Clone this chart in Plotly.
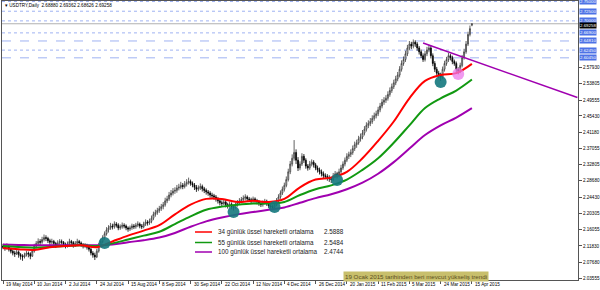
import plotly.graph_objects as go

# ---------------- data ----------------
tick_labels = ["19 May 2014", "10 Jun 2014", "2 Jul 2014", "24 Jul 2014", "15 Aug 2014",
               "8 Sep 2014", "30 Sep 2014", "22 Oct 2014", "12 Nov 2014", "4 Dec 2014",
               "26 Dec 2014", "20 Jan 2015", "11 Feb 2015", "5 Mar 2015", "24 Mar 2015",
               "15 Apr 2015"]
tick_bars = [0, 16, 32, 48, 64, 80, 96, 112, 128, 144, 160, 176, 192, 208, 224, 240]

y_ticks = [2.03555, 2.07680, 2.11830, 2.16055, 2.20305, 2.24430, 2.28680, 2.32805,
           2.37055, 2.41180, 2.45430, 2.49555, 2.53805, 2.57930]

open_ = [2.118, 2.115, 2.112, 2.118, 2.110, 2.105, 2.100, 2.098, 2.103, 2.096,
         2.092, 2.090, 2.095, 2.100, 2.098, 2.092, 2.105, 2.118, 2.125, 2.130,
         2.128, 2.135, 2.140, 2.138, 2.132, 2.128, 2.130, 2.125, 2.120, 2.126,
         2.130, 2.128, 2.122, 2.118, 2.124, 2.130, 2.127, 2.120, 2.125, 2.130,
         2.126, 2.122, 2.118, 2.120, 2.115, 2.110, 2.100, 2.095, 2.090, 2.105,
         2.120, 2.130, 2.140, 2.150, 2.160, 2.165, 2.170, 2.168, 2.175, 2.172,
         2.165, 2.168, 2.172, 2.170, 2.165, 2.162, 2.165, 2.170, 2.168, 2.172,
         2.175, 2.170, 2.168, 2.175, 2.180, 2.178, 2.182, 2.190, 2.200, 2.205,
         2.210, 2.215, 2.220, 2.225, 2.235, 2.240, 2.250, 2.255, 2.260, 2.262,
         2.268, 2.270, 2.275, 2.272, 2.278, 2.282, 2.285, 2.280, 2.276, 2.270,
         2.265, 2.268, 2.272, 2.266, 2.262, 2.258, 2.255, 2.250, 2.248, 2.245,
         2.240, 2.235, 2.230, 2.228, 2.232, 2.225, 2.222, 2.226, 2.220, 2.218,
         2.225, 2.230, 2.235, 2.238, 2.242, 2.245, 2.240, 2.238, 2.235, 2.240,
         2.236, 2.232, 2.228, 2.225, 2.230, 2.234, 2.228, 2.222, 2.220, 2.218,
         2.225, 2.235, 2.245, 2.255, 2.265, 2.275, 2.290, 2.310, 2.330, 2.345,
         2.360, 2.340, 2.320, 2.330, 2.350, 2.340, 2.325, 2.320, 2.330, 2.335,
         2.328, 2.320, 2.315, 2.310, 2.305, 2.300, 2.298, 2.295, 2.292, 2.290,
         2.300, 2.305, 2.300, 2.310, 2.320, 2.330, 2.340, 2.350, 2.355, 2.360,
         2.370, 2.380, 2.385, 2.395, 2.400, 2.410, 2.420, 2.430, 2.435, 2.440,
         2.448, 2.455, 2.460, 2.470, 2.480, 2.490, 2.495, 2.500, 2.510, 2.520,
         2.530, 2.540, 2.550, 2.560, 2.575, 2.590, 2.600, 2.615, 2.630, 2.640,
         2.635, 2.645, 2.640, 2.630, 2.620, 2.610, 2.600, 2.615, 2.625, 2.630,
         2.610, 2.590, 2.575, 2.565, 2.560, 2.555, 2.575, 2.590, 2.600, 2.610,
         2.605, 2.595, 2.590, 2.575, 2.570, 2.585, 2.605, 2.620, 2.640, 2.665,
         2.6888]
high = [2.124, 2.121, 2.125, 2.122, 2.114, 2.109, 2.106, 2.110, 2.107, 2.100,
        2.097, 2.101, 2.106, 2.104, 2.102, 2.110, 2.124, 2.131, 2.138, 2.136,
        2.142, 2.148, 2.146, 2.142, 2.137, 2.137, 2.134, 2.129, 2.133, 2.136,
        2.135, 2.131, 2.127, 2.130, 2.137, 2.134, 2.131, 2.131, 2.137, 2.134,
        2.130, 2.126, 2.126, 2.124, 2.119, 2.114, 2.105, 2.101, 2.111, 2.126,
        2.137, 2.146, 2.156, 2.167, 2.172, 2.178, 2.176, 2.182, 2.180, 2.177,
        2.174, 2.179, 2.177, 2.174, 2.169, 2.171, 2.176, 2.175, 2.178, 2.182,
        2.179, 2.175, 2.181, 2.187, 2.185, 2.189, 2.197, 2.207, 2.212, 2.217,
        2.222, 2.227, 2.232, 2.243, 2.248, 2.258, 2.263, 2.268, 2.270, 2.276,
        2.279, 2.284, 2.281, 2.286, 2.291, 2.295, 2.290, 2.285, 2.281, 2.276,
        2.275, 2.280, 2.277, 2.271, 2.267, 2.263, 2.260, 2.256, 2.253, 2.250,
        2.245, 2.240, 2.236, 2.240, 2.237, 2.230, 2.233, 2.231, 2.225, 2.231,
        2.237, 2.242, 2.245, 2.249, 2.252, 2.249, 2.245, 2.243, 2.246, 2.244,
        2.240, 2.237, 2.233, 2.236, 2.240, 2.238, 2.233, 2.227, 2.225, 2.231,
        2.242, 2.252, 2.262, 2.272, 2.282, 2.298, 2.318, 2.338, 2.355, 2.392,
        2.368, 2.348, 2.337, 2.358, 2.356, 2.345, 2.330, 2.338, 2.342, 2.340,
        2.333, 2.326, 2.321, 2.316, 2.311, 2.306, 2.304, 2.301, 2.298, 2.307,
        2.312, 2.310, 2.318, 2.328, 2.337, 2.347, 2.358, 2.362, 2.368, 2.378,
        2.388, 2.393, 2.403, 2.409, 2.418, 2.428, 2.438, 2.443, 2.449, 2.456,
        2.463, 2.468, 2.478, 2.488, 2.498, 2.503, 2.508, 2.518, 2.528, 2.538,
        2.548, 2.558, 2.568, 2.583, 2.598, 2.608, 2.623, 2.638, 2.648, 2.646,
        2.652, 2.650, 2.645, 2.635, 2.626, 2.616, 2.622, 2.633, 2.638, 2.636,
        2.616, 2.596, 2.581, 2.571, 2.566, 2.582, 2.597, 2.607, 2.617, 2.615,
        2.610, 2.600, 2.595, 2.580, 2.592, 2.612, 2.628, 2.648, 2.672, 2.688,
        2.69362]
low = [2.110, 2.106, 2.109, 2.104, 2.099, 2.094, 2.090, 2.095, 2.088, 2.083,
       2.080, 2.086, 2.091, 2.089, 2.084, 2.090, 2.101, 2.112, 2.119, 2.120,
       2.124, 2.130, 2.131, 2.126, 2.121, 2.122, 2.118, 2.113, 2.116, 2.121,
       2.122, 2.116, 2.112, 2.114, 2.119, 2.121, 2.114, 2.116, 2.120, 2.120,
       2.116, 2.112, 2.113, 2.109, 2.104, 2.094, 2.088, 2.082, 2.087, 2.101,
       2.116, 2.125, 2.134, 2.145, 2.153, 2.160, 2.161, 2.163, 2.166, 2.159,
       2.160, 2.163, 2.164, 2.159, 2.155, 2.157, 2.160, 2.162, 2.163, 2.167,
       2.164, 2.162, 2.164, 2.170, 2.171, 2.173, 2.177, 2.185, 2.194, 2.199,
       2.204, 2.209, 2.213, 2.220, 2.229, 2.235, 2.244, 2.249, 2.253, 2.256,
       2.262, 2.265, 2.265, 2.267, 2.272, 2.277, 2.274, 2.270, 2.263, 2.258,
       2.260, 2.263, 2.259, 2.255, 2.251, 2.248, 2.243, 2.241, 2.238, 2.233,
       2.228, 2.223, 2.221, 2.224, 2.218, 2.215, 2.217, 2.213, 2.210, 2.214,
       2.220, 2.225, 2.229, 2.232, 2.236, 2.234, 2.232, 2.229, 2.230, 2.230,
       2.226, 2.222, 2.219, 2.220, 2.225, 2.222, 2.216, 2.214, 2.211, 2.213,
       2.221, 2.230, 2.240, 2.250, 2.259, 2.270, 2.285, 2.304, 2.324, 2.339,
       2.330, 2.312, 2.314, 2.325, 2.333, 2.318, 2.313, 2.315, 2.324, 2.321,
       2.314, 2.308, 2.303, 2.298, 2.293, 2.291, 2.287, 2.284, 2.281, 2.286,
       2.295, 2.293, 2.296, 2.305, 2.315, 2.324, 2.335, 2.343, 2.348, 2.354,
       2.364, 2.372, 2.380, 2.388, 2.394, 2.404, 2.414, 2.423, 2.428, 2.434,
       2.442, 2.448, 2.454, 2.464, 2.474, 2.483, 2.488, 2.494, 2.504, 2.514,
       2.524, 2.534, 2.544, 2.554, 2.569, 2.584, 2.594, 2.609, 2.624, 2.627,
       2.629, 2.633, 2.623, 2.613, 2.604, 2.594, 2.595, 2.609, 2.619, 2.603,
       2.583, 2.568, 2.558, 2.552, 2.545, 2.550, 2.569, 2.584, 2.594, 2.598,
       2.588, 2.584, 2.568, 2.562, 2.565, 2.580, 2.600, 2.615, 2.635, 2.660,
       2.68626]
close = [2.115, 2.112, 2.118, 2.110, 2.105, 2.100, 2.098, 2.103, 2.096, 2.092,
         2.090, 2.095, 2.100, 2.098, 2.092, 2.105, 2.118, 2.125, 2.130, 2.128,
         2.135, 2.140, 2.138, 2.132, 2.128, 2.130, 2.125, 2.120, 2.126, 2.130,
         2.128, 2.122, 2.118, 2.124, 2.130, 2.127, 2.120, 2.125, 2.130, 2.126,
         2.122, 2.118, 2.120, 2.115, 2.110, 2.100, 2.095, 2.090, 2.105, 2.120,
         2.130, 2.140, 2.150, 2.160, 2.165, 2.170, 2.168, 2.175, 2.172, 2.165,
         2.168, 2.172, 2.170, 2.165, 2.162, 2.165, 2.170, 2.168, 2.172, 2.175,
         2.170, 2.168, 2.175, 2.180, 2.178, 2.182, 2.190, 2.200, 2.205, 2.210,
         2.215, 2.220, 2.225, 2.235, 2.240, 2.250, 2.255, 2.260, 2.262, 2.268,
         2.270, 2.275, 2.272, 2.278, 2.282, 2.285, 2.280, 2.276, 2.270, 2.265,
         2.268, 2.272, 2.266, 2.262, 2.258, 2.255, 2.250, 2.248, 2.245, 2.240,
         2.235, 2.230, 2.228, 2.232, 2.225, 2.222, 2.226, 2.220, 2.218, 2.225,
         2.230, 2.235, 2.238, 2.242, 2.245, 2.240, 2.238, 2.235, 2.240, 2.236,
         2.232, 2.228, 2.225, 2.230, 2.234, 2.228, 2.222, 2.220, 2.218, 2.225,
         2.235, 2.245, 2.255, 2.265, 2.275, 2.290, 2.310, 2.330, 2.345, 2.360,
         2.340, 2.320, 2.330, 2.350, 2.340, 2.325, 2.320, 2.330, 2.335, 2.328,
         2.320, 2.315, 2.310, 2.305, 2.300, 2.298, 2.295, 2.292, 2.290, 2.300,
         2.305, 2.300, 2.310, 2.320, 2.330, 2.340, 2.350, 2.355, 2.360, 2.370,
         2.380, 2.385, 2.395, 2.400, 2.410, 2.420, 2.430, 2.435, 2.440, 2.448,
         2.455, 2.460, 2.470, 2.480, 2.490, 2.495, 2.500, 2.510, 2.520, 2.530,
         2.540, 2.550, 2.560, 2.575, 2.590, 2.600, 2.615, 2.630, 2.640, 2.635,
         2.645, 2.640, 2.630, 2.620, 2.610, 2.600, 2.615, 2.625, 2.630, 2.610,
         2.590, 2.575, 2.565, 2.560, 2.555, 2.575, 2.590, 2.600, 2.610, 2.605,
         2.595, 2.590, 2.575, 2.570, 2.585, 2.605, 2.620, 2.640, 2.665, 2.680,
         2.69258]
bars = list(range(len(close)))

ema_bars = [0, 8, 16, 24, 32, 40, 48, 56, 64, 72, 80, 88, 96, 104, 112, 120, 128, 136,
            144, 152, 160, 168, 176, 184, 192, 200, 208, 216, 224, 232, 240]
ema34 = [2.113, 2.110, 2.108, 2.115, 2.118, 2.120, 2.115, 2.130, 2.145, 2.158, 2.172,
         2.200, 2.225, 2.240, 2.240, 2.232, 2.235, 2.232, 2.240, 2.270, 2.290, 2.295,
         2.310, 2.345, 2.390, 2.440, 2.500, 2.545, 2.560, 2.565, 2.5888]
ema55 = [2.118, 2.116, 2.114, 2.116, 2.118, 2.120, 2.118, 2.125, 2.135, 2.145, 2.155,
         2.175, 2.195, 2.212, 2.220, 2.225, 2.228, 2.228, 2.232, 2.250, 2.265, 2.275,
         2.290, 2.315, 2.345, 2.385, 2.430, 2.475, 2.500, 2.520, 2.5484]
ema100 = [2.122, 2.121, 2.120, 2.120, 2.120, 2.121, 2.120, 2.122, 2.128, 2.133, 2.140,
          2.152, 2.168, 2.182, 2.192, 2.200, 2.206, 2.212, 2.218, 2.230, 2.242, 2.252,
          2.265, 2.282, 2.305, 2.335, 2.370, 2.405, 2.430, 2.450, 2.4744]

touch_bars = [52, 118, 139, 171, 224]
touch_vals = [2.126, 2.206, 2.219, 2.289, 2.542]
pink_bars = [233]
pink_vals = [2.563]

levels = [2.75000, 2.72500, 2.70000, 2.66900, 2.64810, 2.62450, 2.60450]
level_styles = ["dot", "dot", "dot", "dot", "dash", "dot", "dash"]
last_price = 2.69258

trend_bars = [215, 294]
trend_vals = [2.643, 2.502]

legend_names = ["34 günlük üssel hareketli ortalama", "55 günlük üssel hareketli ortalama",
                "100 günlük üssel hareketli ortalama"]
legend_values = ["2.5888", "2.5484", "2.4744"]
legend_colors = ["#ff0000", "#119911", "#a000b0"]

# ---------------- layout geometry ----------------
W, H = 600, 290
L, R, T, B = 2, 22, 1, 10
PW, PH = W - L - R, H - T - B


def px(x):
    return (x - L) / PW


def py(y):
    return (H - B - y) / PH


FONT = "Liberation Sans"
fig = go.Figure()

fig.add_trace(go.Candlestick(
    x=bars, open=open_, high=high, low=low, close=close,
    increasing=dict(line=dict(color="#3a3a3a", width=0.8), fillcolor="#ffffff"),
    decreasing=dict(line=dict(color="#000000", width=0.8), fillcolor="#000000"),
    whiskerwidth=0, showlegend=False, hoverinfo="skip"))

for vals, col in zip([ema100, ema55, ema34], legend_colors[::-1]):
    fig.add_trace(go.Scatter(x=ema_bars, y=vals, mode="lines",
                             line=dict(color=col, width=2, shape="spline"),
                             showlegend=False, hoverinfo="skip"))

fig.add_trace(go.Scatter(x=trend_bars, y=trend_vals, mode="lines",
                         line=dict(color="#a000b0", width=1.5),
                         showlegend=False, hoverinfo="skip"))

fig.add_trace(go.Scatter(x=touch_bars, y=touch_vals, mode="markers",
                         marker=dict(size=12, color="rgba(20,120,125,0.9)", line=dict(width=0)),
                         showlegend=False, hoverinfo="skip"))
fig.add_trace(go.Scatter(x=pink_bars, y=pink_vals, mode="markers",
                         marker=dict(size=12, color="rgba(235,120,235,0.75)", line=dict(width=0)),
                         showlegend=False, hoverinfo="skip"))

shapes = []
annotations = []
for lv, st in zip(levels, level_styles):
    shapes.append(dict(type="line", xref="paper", yref="y", x0=0, x1=1, y0=lv, y1=lv,
                       line=dict(color="#9fb2f2", width=1, dash=st), layer="below"))
    annotations.append(dict(xref="paper", yref="y", x=1, y=lv, xanchor="left", yanchor="middle",
                            text=f"{lv:.5f}", showarrow=False, bgcolor="#4d72e6",
                            font=dict(family=FONT, size=4.4, color="white"), borderpad=0, xshift=1))
shapes.append(dict(type="line", xref="paper", yref="y", x0=0, x1=1, y0=last_price, y1=last_price,
                   line=dict(color="#b0b0b0", width=1), layer="below"))
annotations.append(dict(xref="paper", yref="y", x=1, y=last_price, xanchor="left", yanchor="top",
                        text=f"{last_price:.5f}", showarrow=False, bgcolor="#000000",
                        font=dict(family=FONT, size=4.4, color="white"), borderpad=0, xshift=1,
                        yshift=1.5))

# x tick labels (left aligned like MT4)
for tb, tl in zip(tick_bars, tick_labels):
    annotations.append(dict(xref="x", yref="paper", x=tb, y=py(284), xanchor="left", yanchor="middle",
                            text=tl, showarrow=False, xshift=1,
                            font=dict(family=FONT, size=4.6, color="black")))

# title
annotations.append(dict(xref="paper", yref="paper", x=px(3), y=py(5.5), xanchor="left",
                        yanchor="middle", showarrow=False,
                        text="▾ USDTRY,Daily  2.68880 2.69362 2.68626 2.69258",
                        font=dict(family=FONT, size=4.6, color="black")))

# legend
for i, (nm, val, col) in enumerate(zip(legend_names, legend_values, legend_colors)):
    yy = [232, 242.5, 252][i]
    shapes.append(dict(type="line", xref="paper", yref="paper", x0=px(195), x1=px(212),
                       y0=py(yy), y1=py(yy), line=dict(color=col, width=1.5)))
    annotations.append(dict(xref="paper", yref="paper", x=px(216), y=py(yy), xanchor="left",
                            yanchor="middle", text=nm, showarrow=False,
                            font=dict(family=FONT, size=6.3, color="#222222")))
    annotations.append(dict(xref="paper", yref="paper", x=px(322), y=py(yy), xanchor="left",
                            yanchor="middle", text=val, showarrow=False,
                            font=dict(family=FONT, size=6.3, color="#222222")))

annotations.append(dict(xref="paper", yref="paper", x=px(343), y=py(276.5), xanchor="left",
                        yanchor="middle", showarrow=False,
                        text="19 Ocak 2015 tarihinden beri mevcut yükseliş trendi",
                        bgcolor="#c8bf6c", borderpad=1,
                        font=dict(family=FONT, size=6.2, color="#5c4f1e")))

fig.update_layout(
    width=W, height=H, margin=dict(l=L, r=R, t=T, b=B),
    paper_bgcolor="white", plot_bgcolor="white",
    shapes=shapes, annotations=annotations, showlegend=False,
    xaxis=dict(range=[-0.51, 294.3], rangeslider=dict(visible=False), showgrid=False,
               zeroline=False, tickmode="array", tickvals=tick_bars,
               ticktext=[""] * len(tick_bars), ticks="outside", ticklen=3,
               tickcolor="#555555", showline=True, linecolor="#555555", mirror=True,
               linewidth=1),
    yaxis=dict(range=[2.0304, 2.7514], side="right", showgrid=False, zeroline=False,
               tickmode="array", tickvals=y_ticks, ticktext=[f"{v:.5f}" for v in y_ticks],
               ticks="outside", ticklen=3, tickcolor="#555555", showline=True,
               linecolor="#555555", mirror=True, linewidth=1,
               tickfont=dict(family=FONT, size=4.6, color="black")),
)

fig.write_html("out.html")
